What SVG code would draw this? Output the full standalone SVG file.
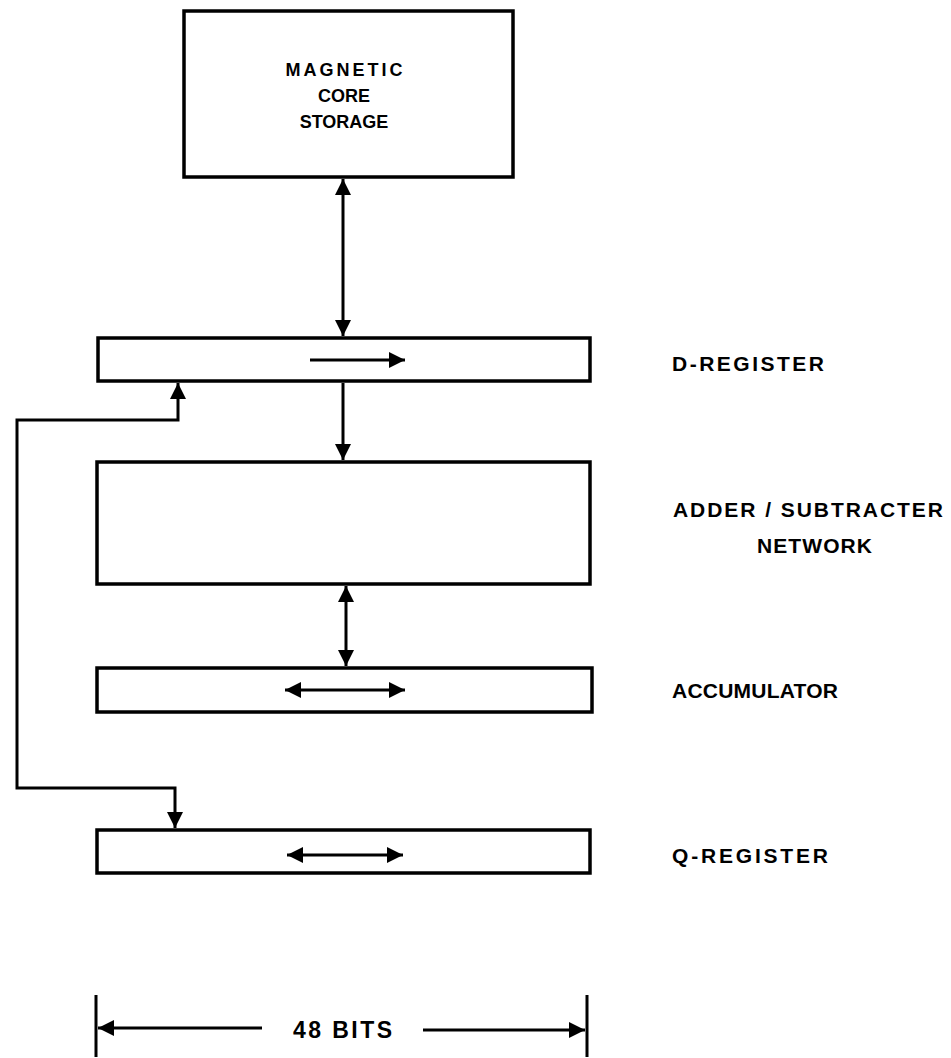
<svg xmlns="http://www.w3.org/2000/svg" width="951" height="1058" viewBox="0 0 951 1058">
<style>
.box{fill:none;stroke:#000;stroke-width:3.5}
.wire{fill:none;stroke:#000;stroke-width:3}
.lbl{font-family:"Liberation Sans",Arial,sans-serif;font-weight:bold;font-size:21px;fill:#000}
.in{font-family:"Liberation Sans",Arial,sans-serif;font-weight:bold;font-size:18px;fill:#000;text-anchor:middle}
</style>
<defs>
<marker id="ah" markerUnits="userSpaceOnUse" markerWidth="18" markerHeight="16" refX="16" refY="8" orient="auto-start-reverse">
<path d="M0,0 L16,8 L0,16 z" fill="#000"/>
</marker>
</defs>
<rect width="951" height="1058" fill="#fff"/>
<g id="storage">
<rect class="box" x="184" y="11" width="329" height="166"/>
<text class="in" x="344" y="76" textLength="117" lengthAdjust="spacing">MAGNETIC</text>
<text class="in" x="344" y="102">CORE</text>
<text class="in" x="344" y="128">STORAGE</text>
</g>
<g id="d-register">
<rect class="box" x="98" y="338" width="492" height="43"/>
<text class="lbl" x="672" y="371" textLength="152" lengthAdjust="spacing">D-REGISTER</text>
</g>
<g id="adder">
<rect class="box" x="97" y="462" width="493" height="122"/>
<text class="lbl" x="673" y="517" textLength="270" lengthAdjust="spacing">ADDER / SUBTRACTER</text>
<text class="lbl" x="757" y="553" textLength="115" lengthAdjust="spacing">NETWORK</text>
</g>
<g id="accumulator">
<rect class="box" x="97" y="668" width="495" height="44"/>
<text class="lbl" x="672" y="698" textLength="166" lengthAdjust="spacing">ACCUMULATOR</text>
</g>
<g id="q-register">
<rect class="box" x="97" y="830" width="493" height="43"/>
<text class="lbl" x="672" y="863" textLength="156" lengthAdjust="spacing">Q-REGISTER</text>
</g>
<g id="connectors">
<path class="wire" d="M343,179 V336" marker-start="url(#ah)" marker-end="url(#ah)"/>
<path class="wire" d="M310,360 H405" marker-end="url(#ah)"/>
<path class="wire" d="M343,383 V460" marker-end="url(#ah)"/>
<path class="wire" d="M346,586 V666" marker-start="url(#ah)" marker-end="url(#ah)"/>
<path class="wire" d="M285,690 H405" marker-start="url(#ah)" marker-end="url(#ah)"/>
<path class="wire" d="M287,855 H403" marker-start="url(#ah)" marker-end="url(#ah)"/>
<path class="wire" d="M178,383 V420 H17 V788 H175 V828" marker-start="url(#ah)" marker-end="url(#ah)"/>
</g>
<g id="dimension">
<path class="wire" d="M96,995 V1057 M587,995 V1057"/>
<path class="wire" d="M262,1028 H98" marker-end="url(#ah)"/>
<path class="wire" d="M423,1030 H585" marker-end="url(#ah)"/>
<text class="lbl" x="293" y="1038" style="font-size:23px" textLength="99" lengthAdjust="spacing">48 BITS</text>
</g>
</svg>
